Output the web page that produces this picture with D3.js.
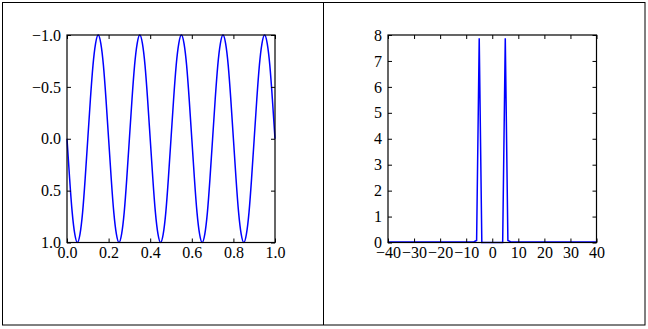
<!DOCTYPE html>
<html>
<head>
<meta charset="utf-8">
<script src="https://cdn.jsdelivr.net/npm/d3@7"></script>
<style>
  body { margin: 0; background: #fff; }
  svg { display: block; }
</style>
</head>
<body>
<svg width="648" height="329"></svg>
<script>
// Left panel: sampled signal, 81 samples over one second
const signalValues = [
   0.00,  0.38,  0.71,  0.92,  1.00,  0.92,  0.71,  0.38,
   0.00, -0.38, -0.71, -0.92, -1.00, -0.92, -0.71, -0.38,
   0.00,  0.38,  0.71,  0.92,  1.00,  0.92,  0.71,  0.38,
   0.00, -0.38, -0.71, -0.92, -1.00, -0.92, -0.71, -0.38,
   0.00,  0.38,  0.71,  0.92,  1.00,  0.92,  0.71,  0.38,
   0.00, -0.38, -0.71, -0.92, -1.00, -0.92, -0.71, -0.38,
   0.00,  0.38,  0.71,  0.92,  1.00,  0.92,  0.71,  0.38,
   0.00, -0.38, -0.71, -0.92, -1.00, -0.92, -0.71, -0.38,
   0.00,  0.38,  0.71,  0.92,  1.00,  0.92,  0.71,  0.38,
   0.00, -0.38, -0.71, -0.92, -1.00, -0.92, -0.71, -0.38,
   0.00
];
const signalTimes = d3.range(signalValues.length).map(i => i / (signalValues.length - 1));

// Right panel: spectrum magnitude at frequencies -40 .. 40
const spectrumFreqs = d3.range(-40, 41);
const spectrumValues = [
  0.02, 0.02, 0.02, 0.02, 0.02, 0.02, 0.02, 0.02, 0.02, 0.02,  // -40 .. -31
  0.02, 0.02, 0.02, 0.02, 0.02, 0.02, 0.02, 0.02, 0.02, 0.02,  // -30 .. -21
  0.02, 0.02, 0.02, 0.02, 0.02, 0.02, 0.02, 0.02, 0.02, 0.02,  // -20 .. -11
  0.02, 0.02, 0.02, 0.03, 0.08, 7.87, 0.00, 0.00, 0.00, 0.00,  // -10 .. -1
  0.00,                                                        // 0
  0.00, 0.00, 0.00, 0.00, 7.87, 0.08, 0.03, 0.02, 0.02, 0.02,  // 1 .. 10
  0.02, 0.02, 0.02, 0.02, 0.02, 0.02, 0.02, 0.02, 0.02, 0.02,  // 11 .. 20
  0.02, 0.02, 0.02, 0.02, 0.02, 0.02, 0.02, 0.02, 0.02, 0.02,  // 21 .. 30
  0.02, 0.02, 0.02, 0.02, 0.02, 0.02, 0.02, 0.02, 0.02, 0.02   // 31 .. 40
];

const signalXTicks = [0, 0.2, 0.4, 0.6, 0.8, 1.0];
const signalYTicks = [-1, -0.5, 0, 0.5, 1];
const spectrumXTicks = [-40, -30, -20, -10, 0, 10, 20, 30, 40];
const spectrumYTicks = [0, 1, 2, 3, 4, 5, 6, 7, 8];

const svg = d3.select("svg");
const minus = s => s.replace("-", "\u2212");
const FONT = "'Liberation Serif', 'DejaVu Serif', serif";

// outer frame and divider
svg.append("rect")
    .attr("x", 2.5).attr("y", 2.5)
    .attr("width", 642.5).attr("height", 322.5)
    .attr("fill", "none").attr("stroke", "#000").attr("stroke-width", 1);
svg.append("line")
    .attr("x1", 323.5).attr("x2", 323.5)
    .attr("y1", 2.5).attr("y2", 325)
    .attr("stroke", "#000").attr("stroke-width", 1);

function drawPanel(opts) {
    const g = svg.append("g");
    const x = d3.scaleLinear().domain(opts.xDomain).range([opts.left, opts.right]);
    const y = d3.scaleLinear().domain(opts.yDomain).range([opts.bottom, opts.top]);

    // data line
    g.append("path")
        .datum(opts.xs.map((d, i) => [d, opts.ys[i]]))
        .attr("fill", "none")
        .attr("stroke", "#0000ff")
        .attr("stroke-width", 1.5)
        .attr("d", d3.line().x(d => x(d[0])).y(d => y(d[1])).curve(opts.curve));

    // inward ticks on all four sides
    const bottom = g.append("g").attr("transform", `translate(0,${opts.bottom})`)
        .call(d3.axisBottom(x).tickValues(opts.xTicks).tickSize(-4).tickPadding(4)
            .tickFormat(d => minus(opts.xFormat(d))));
    const top = g.append("g").attr("transform", `translate(0,${opts.top})`)
        .call(d3.axisTop(x).tickValues(opts.xTicks).tickSize(-4).tickFormat(""));
    const left = g.append("g").attr("transform", `translate(${opts.left},0)`)
        .call(d3.axisLeft(y).tickValues(opts.yTicks).tickSize(-4).tickPadding(6)
            .tickFormat(d => minus(opts.yFormat(d))));
    const right = g.append("g").attr("transform", `translate(${opts.right},0)`)
        .call(d3.axisRight(y).tickValues(opts.yTicks).tickSize(-4).tickFormat(""));
    [bottom, top, left, right].forEach(a => {
        a.select(".domain").remove();
        a.attr("font-family", FONT).attr("font-size", 16);
        a.selectAll(".tick line").attr("stroke", "#000");
        a.selectAll(".tick text").attr("fill", "#000");
    });
    bottom.selectAll("text").attr("dy", "0.72em");

    // axes box
    g.append("rect")
        .attr("x", opts.left).attr("y", opts.top)
        .attr("width", opts.right - opts.left).attr("height", opts.bottom - opts.top)
        .attr("fill", "none").attr("stroke", "#000").attr("stroke-width", 1.2);
}

drawPanel({
    left: 67, right: 275, top: 35, bottom: 242.5,
    xDomain: [0, 1], yDomain: [1, -1],
    xs: signalTimes, ys: signalValues,
    xTicks: signalXTicks, yTicks: signalYTicks,
    xFormat: d3.format(".1f"), yFormat: d3.format(".1f"),
    curve: d3.curveNatural
});

drawPanel({
    left: 388, right: 596.5, top: 35, bottom: 242.5,
    xDomain: [-40, 40], yDomain: [0, 8],
    xs: spectrumFreqs, ys: spectrumValues,
    xTicks: spectrumXTicks, yTicks: spectrumYTicks,
    xFormat: d3.format("d"), yFormat: d3.format("d"),
    curve: d3.curveLinear
});
</script>
</body>
</html>
